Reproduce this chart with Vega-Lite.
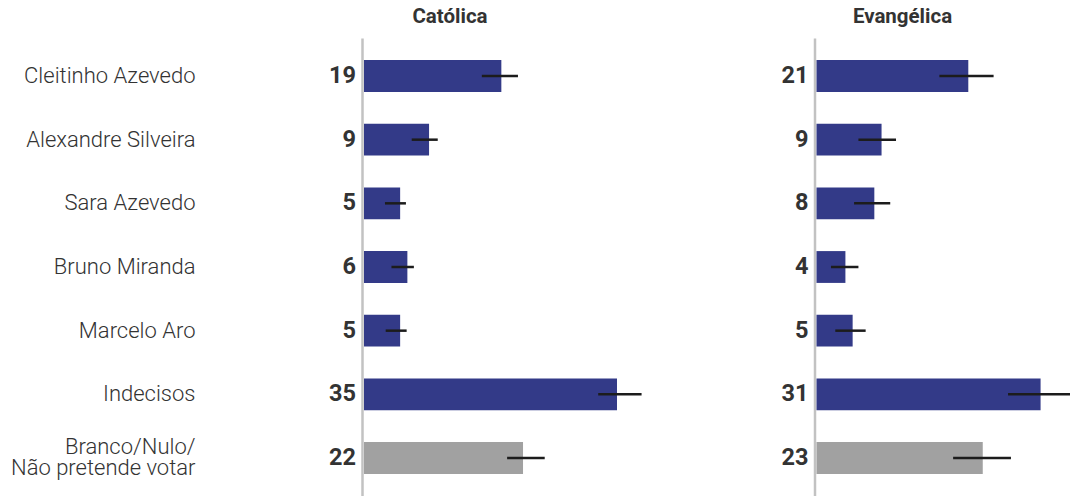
{
  "$schema": "https://vega.github.io/schema/vega-lite/v6.json",
  "background": "white",
  "padding": {"left": 10, "top": 6, "right": 0, "bottom": 0},
  "bounds": "flush",
  "spacing": 199.5,
  "datasets": {
    "dados": [
      {"religiao": "Católica", "nome": "Cleitinho Azevedo", "valor": 19, "lo": 16.3, "hi": 21.3},
      {"religiao": "Católica", "nome": "Alexandre Silveira", "valor": 9, "lo": 6.6, "hi": 10.2},
      {"religiao": "Católica", "nome": "Sara Azevedo", "valor": 5, "lo": 2.9, "hi": 5.8},
      {"religiao": "Católica", "nome": "Bruno Miranda", "valor": 6, "lo": 3.8, "hi": 6.9},
      {"religiao": "Católica", "nome": "Marcelo Aro", "valor": 5, "lo": 3.0, "hi": 5.9},
      {"religiao": "Católica", "nome": "Indecisos", "valor": 35, "lo": 32.4, "hi": 38.4},
      {"religiao": "Católica", "nome": "Branco/Nulo/ Não pretende votar", "valor": 22, "lo": 19.8, "hi": 25.0},
      {"religiao": "Evangélica", "nome": "Cleitinho Azevedo", "valor": 21, "lo": 17.0, "hi": 24.5},
      {"religiao": "Evangélica", "nome": "Alexandre Silveira", "valor": 9, "lo": 5.8, "hi": 11.0},
      {"religiao": "Evangélica", "nome": "Sara Azevedo", "valor": 8, "lo": 5.2, "hi": 10.2},
      {"religiao": "Evangélica", "nome": "Bruno Miranda", "valor": 4, "lo": 2.0, "hi": 5.8},
      {"religiao": "Evangélica", "nome": "Marcelo Aro", "valor": 5, "lo": 2.6, "hi": 6.8},
      {"religiao": "Evangélica", "nome": "Indecisos", "valor": 31, "lo": 26.5, "hi": 35.2},
      {"religiao": "Evangélica", "nome": "Branco/Nulo/ Não pretende votar", "valor": 23, "lo": 18.9, "hi": 26.9}
    ]
  },
  "hconcat": [
    {
      "data": {"name": "dados"},
      "transform": [{"filter": "datum.religiao === 'Católica'"}],
      "width": 253,
      "height": 458,
      "title": {"text": "Católica", "anchor": "middle", "dx": -40.5, "offset": -5, "baseline": "alphabetic", "font": "Roboto", "fontSize": 20.5, "fontWeight": "bold", "color": "#333333"},
      "encoding": {
        "y": {
          "field": "nome", "type": "nominal",
          "sort": ["Cleitinho Azevedo", "Alexandre Silveira", "Sara Azevedo", "Bruno Miranda", "Marcelo Aro", "Indecisos", "Branco/Nulo/ Não pretende votar"],
          "scale": {"paddingInner": 0.5, "paddingOuter": 0.347},
          "axis": {
            "title": null, "ticks": false, "offset": 2, "domainColor": "#c2c2c2", "domainWidth": 2.5,
            "labelPadding": 167, "labelFont": "Roboto Light, Roboto", "labelFontSize": 22, "labelFontWeight": 300, "labelColor": "#333333",
            "labelLimit": 400, "labelLineHeight": 21,
            "labelOffset": {"condition": {"test": "datum.label === 'Branco/Nulo/ Não pretende votar'", "value": -11}, "value": 0},
            "labelExpr": "datum.label === 'Branco/Nulo/ Não pretende votar' ? ['Branco/Nulo/', 'Não pretende votar'] : datum.label"
          }
        }
      },
      "layer": [
        {
          "mark": {"type": "bar"},
          "encoding": {
            "x": {"field": "valor", "type": "quantitative", "scale": {"domain": [0, 35]}, "axis": null},
            "color": {"condition": {"test": "datum.nome === 'Branco/Nulo/ Não pretende votar'", "value": "#a1a1a1"}, "value": "#333a88"}
          }
        },
        {
          "mark": {"type": "rule", "strokeWidth": 2.5, "color": "#1c1c1c"},
          "encoding": {
            "x": {"field": "lo", "type": "quantitative"},
            "x2": {"field": "hi"}
          }
        },
        {
          "mark": {"type": "text", "align": "right", "baseline": "middle", "dx": -8, "font": "Roboto", "fontSize": 23.5, "fontWeight": "bold", "color": "#333333"},
          "encoding": {
            "x": {"datum": 0, "type": "quantitative"},
            "text": {"field": "valor", "type": "quantitative"}
          }
        }
      ]
    },
    {
      "data": {"name": "dados"},
      "transform": [{"filter": "datum.religiao === 'Evangélica'"}],
      "width": 253,
      "height": 458,
      "title": {"text": "Evangélica", "anchor": "middle", "dx": -40.5, "offset": -5, "baseline": "alphabetic", "font": "Roboto", "fontSize": 20.5, "fontWeight": "bold", "color": "#333333"},
      "encoding": {
        "y": {
          "field": "nome", "type": "nominal",
          "sort": ["Cleitinho Azevedo", "Alexandre Silveira", "Sara Azevedo", "Bruno Miranda", "Marcelo Aro", "Indecisos", "Branco/Nulo/ Não pretende votar"],
          "scale": {"paddingInner": 0.5, "paddingOuter": 0.347},
          "axis": {"title": null, "ticks": false, "labels": false, "offset": 2, "domainColor": "#c2c2c2", "domainWidth": 2.5}
        }
      },
      "layer": [
        {
          "mark": {"type": "bar"},
          "encoding": {
            "x": {"field": "valor", "type": "quantitative", "scale": {"domain": [0, 35]}, "axis": null},
            "color": {"condition": {"test": "datum.nome === 'Branco/Nulo/ Não pretende votar'", "value": "#a1a1a1"}, "value": "#333a88"}
          }
        },
        {
          "mark": {"type": "rule", "strokeWidth": 2.5, "color": "#1c1c1c"},
          "encoding": {
            "x": {"field": "lo", "type": "quantitative"},
            "x2": {"field": "hi"}
          }
        },
        {
          "mark": {"type": "text", "align": "right", "baseline": "middle", "dx": -8, "font": "Roboto", "fontSize": 23.5, "fontWeight": "bold", "color": "#333333"},
          "encoding": {
            "x": {"datum": 0, "type": "quantitative"},
            "text": {"field": "valor", "type": "quantitative"}
          }
        }
      ]
    }
  ],
  "config": {"view": {"stroke": null}}
}
